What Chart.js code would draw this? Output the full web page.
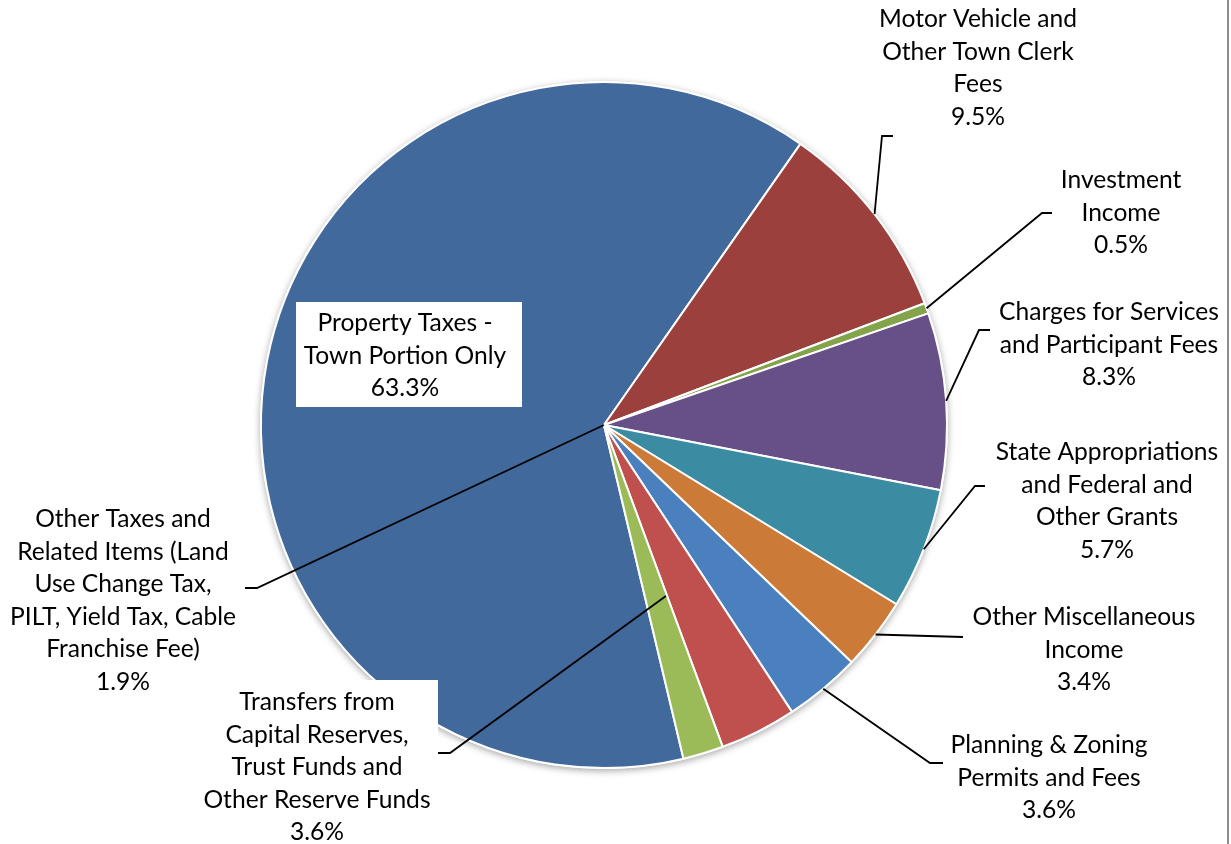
<!DOCTYPE html>
<html>
<head>
<meta charset="utf-8">
<script src="https://cdn.jsdelivr.net/npm/chart.js@4.4.0/dist/chart.umd.min.js"></script>
<style>
html, body { margin: 0; padding: 0; background: #fff; }
#wrap { position: relative; width: 1231px; height: 844px; }
</style>
</head>
<body>
<div id="wrap"><canvas id="pie" width="1231" height="844"></canvas></div>
<script>
// 数据
const categories = [
    'Property Taxes - Town Portion Only',
    'Motor Vehicle and Other Town Clerk Fees',
    'Investment Income',
    'Charges for Services and Participant Fees',
    'State Appropriations and Federal and Other Grants',
    'Other Miscellaneous Income',
    'Planning & Zoning Permits and Fees',
    'Transfers from Capital Reserves, Trust Funds and Other Reserve Funds',
    'Other Taxes and Related Items (Land Use Change Tax, PILT, Yield Tax, Cable Franchise Fee)'
];
const values = [63.3, 9.5, 0.5, 8.3, 5.7, 3.4, 3.6, 3.6, 1.9];
const sliceColors = ['#41699c', '#9c403e', '#84a44c', '#674f87', '#3b8ca3', '#cc7a38', '#4b80be', '#c0504d', '#9bbb59'];

// 标签换行
const labelLines = [
    ['Property Taxes -', 'Town Portion Only'],
    ['Motor Vehicle and', 'Other Town Clerk', 'Fees'],
    ['Investment', 'Income'],
    ['Charges for Services', 'and Participant Fees'],
    ['State Appropriations', 'and Federal and', 'Other Grants'],
    ['Other Miscellaneous', 'Income'],
    ['Planning & Zoning', 'Permits and Fees'],
    ['Transfers from', 'Capital Reserves,', 'Trust Funds and', 'Other Reserve Funds'],
    ['Other Taxes and', 'Related Items (Land', 'Use Change Tax,', 'PILT, Yield Tax, Cable', 'Franchise Fee)']
];

// 标签位置 (x, 第一行y), 引线: 折点 + 扇区内位置 (t 角度比例, rf 半径比例)
const labelLayout = [
    { x: 405, y: 323, box: [296, 302, 522, 407] },
    { x: 978, y: 19, elbow: [[893, 136], [882, 136]], t: 0.5, rf: 1 },
    { x: 1121, y: 180, elbow: [[1052, 213], [1042, 213]], t: 0.5, rf: 1 },
    { x: 1109, y: 312, elbow: [[990, 330], [979, 330]], t: 0.5, rf: 1 },
    { x: 1107, y: 452, elbow: [[985, 486], [975, 486]], t: 0.5, rf: 1 },
    { x: 1084, y: 617, elbow: [[963, 637]], t: 0.5, rf: 1 },
    { x: 1049, y: 745, elbow: [[943, 763], [930, 763]], t: 0.5, rf: 1 },
    { x: 317, y: 702, box: [222, 680, 438, 844], elbow: [[438, 753], [450, 753]], target: 8, t: 0.05, rf: 0.53 },
    { x: 123, y: 519, elbow: [[245, 588], [257, 588]], t: 0.5, rf: 0 }
];
const lineHeight = 32.6;
const labelFont = '24.6px Lato, "Open Sans", sans-serif';

// 阴影
const shadowPlugin = {
    id: 'pieShadow',
    beforeDatasetsDraw(chart) {
        const arc = chart.getDatasetMeta(0).data[0];
        if (!arc) return;
        const ctx = chart.ctx;
        ctx.save();
        ctx.shadowColor = 'rgba(0, 0, 0, 0.35)';
        ctx.shadowBlur = 7;
        ctx.shadowOffsetY = 2;
        ctx.fillStyle = '#fff';
        ctx.beginPath();
        ctx.arc(arc.x, arc.y, arc.outerRadius + 1, 0, Math.PI * 2);
        ctx.fill();
        ctx.restore();
    }
};

// 数据标签和引线
const labelPlugin = {
    id: 'pieLabels',
    afterDatasetsDraw(chart) {
        const ctx = chart.ctx;
        const arcs = chart.getDatasetMeta(0).data;
        ctx.save();
        labelLayout.forEach((lay, i) => {
            if (lay.box) {
                ctx.fillStyle = '#fff';
                ctx.fillRect(lay.box[0], lay.box[1], lay.box[2] - lay.box[0], lay.box[3] - lay.box[1]);
            }
        });
        ctx.strokeStyle = '#000';
        ctx.lineWidth = 1.8;
        labelLayout.forEach((lay, i) => {
            if (!lay.elbow) return;
            const arc = arcs[lay.target !== undefined ? lay.target : i];
            const a = arc.startAngle + lay.t * (arc.endAngle - arc.startAngle);
            const r = lay.rf * arc.outerRadius;
            ctx.beginPath();
            ctx.moveTo(lay.elbow[0][0], lay.elbow[0][1]);
            lay.elbow.slice(1).forEach(p => ctx.lineTo(p[0], p[1]));
            ctx.lineTo(arc.x + Math.cos(a) * r, arc.y + Math.sin(a) * r);
            ctx.stroke();
        });
        ctx.fillStyle = '#000';
        ctx.font = labelFont;
        ctx.textAlign = 'center';
        ctx.textBaseline = 'middle';
        labelLayout.forEach((lay, i) => {
            const lines = labelLines[i].concat([values[i].toFixed(1) + '%']);
            lines.forEach((txt, k) => ctx.fillText(txt, lay.x, lay.y + k * lineHeight));
        });
        ctx.restore();
    },
    afterDraw(chart) {
        // 右侧边框
        const ctx = chart.ctx;
        ctx.save();
        ctx.fillStyle = '#8c8c8c';
        ctx.fillRect(1227, 0, 2, chart.height);
        ctx.restore();
    }
};

new Chart(document.getElementById('pie'), {
    type: 'pie',
    data: {
        labels: categories,
        datasets: [{
            data: values,
            backgroundColor: sliceColors,
            borderColor: '#fff',
            borderWidth: 2,
            hoverOffset: 0
        }]
    },
    options: {
        responsive: false,
        animation: false,
        rotation: 166.6,
        layout: { padding: { left: 260, top: 81, right: 283, bottom: 75 } },
        plugins: {
            legend: { display: false },
            tooltip: { enabled: false }
        }
    },
    plugins: [shadowPlugin, labelPlugin]
});
</script>
</body>
</html>
